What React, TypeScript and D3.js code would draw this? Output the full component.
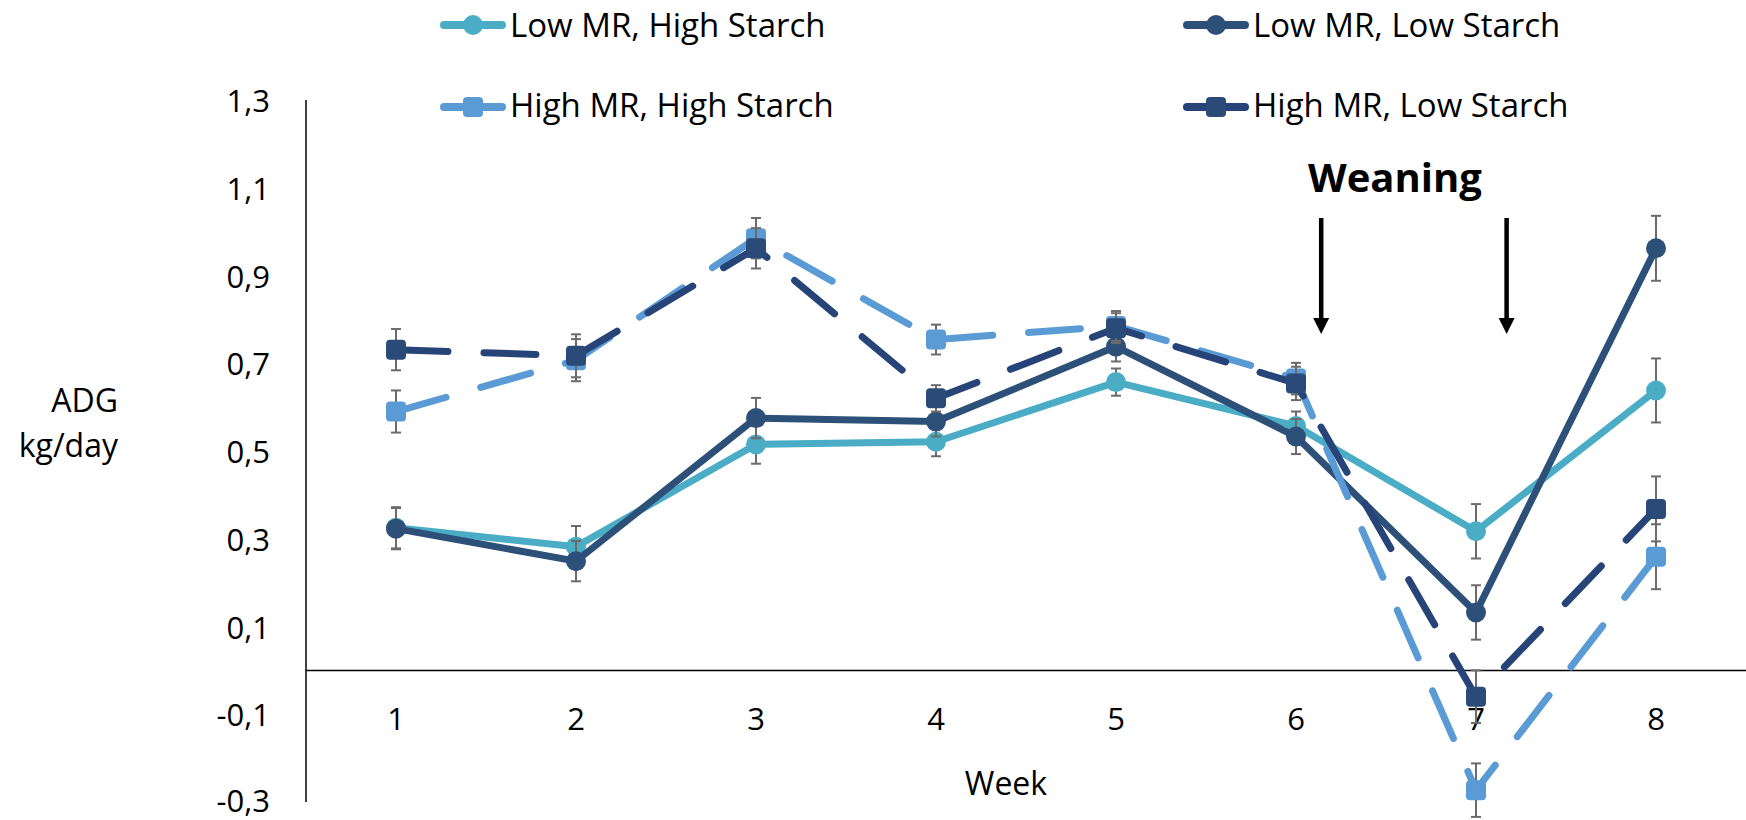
import * as d3 from 'd3';

const weeks = [1, 2, 3, 4, 5, 6, 7, 8];

const lowMRHighStarch = [0.325, 0.282, 0.515, 0.521, 0.657, 0.557, 0.317, 0.638];
const lowMRLowStarch = [0.323, 0.249, 0.575, 0.567, 0.738, 0.533, 0.132, 0.962];
const highMRHighStarch = [0.59, 0.707, 0.985, 0.754, 0.785, 0.665, -0.273, 0.259];
const highMRLowStarch = [0.731, 0.717, 0.962, 0.62, 0.78, 0.654, -0.06, 0.368];

const errLowMRHighStarch = [0.047, 0.047, 0.044, 0.033, 0.031, 0.033, 0.062, 0.073];
const errLowMRLowStarch = [0.047, 0.046, 0.046, 0.034, 0.034, 0.04, 0.062, 0.074];
const errHighMRHighStarch = [0.048, 0.048, 0.046, 0.034, 0.034, 0.036, 0.061, 0.074];
const errHighMRLowStarch = [0.047, 0.049, 0.046, 0.03, 0.034, 0.038, 0.06, 0.074];

const yTicks = [-0.3, -0.1, 0.1, 0.3, 0.5, 0.7, 0.9, 1.1, 1.3];
const weaningWeeks = [6.14, 7.17];

interface Series {
  name: string;
  values: number[];
  errors: number[];
  color: string;
  markerColor: string;
  marker: 'circle' | 'square';
  dashed: boolean;
}

const series: Series[] = [
  { name: 'Low MR, High Starch', values: lowMRHighStarch, errors: errLowMRHighStarch, color: '#4bacc6', markerColor: '#4bacc6', marker: 'circle', dashed: false },
  { name: 'Low MR, Low Starch', values: lowMRLowStarch, errors: errLowMRLowStarch, color: '#2d5079', markerColor: '#2d5079', marker: 'circle', dashed: false },
  { name: 'High MR, High Starch', values: highMRHighStarch, errors: errHighMRHighStarch, color: '#5b9bd5', markerColor: '#5b9bd5', marker: 'square', dashed: true },
  { name: 'High MR, Low Starch', values: highMRLowStarch, errors: errHighMRLowStarch, color: '#264478', markerColor: '#2a4b78', marker: 'square', dashed: true },
];

// legend slots: line start x, marker y, text baseline
const legendSlots = [
  { x: 440, y: 25, textY: 37 },
  { x: 1183, y: 25, textY: 37 },
  { x: 440, y: 107, textY: 117 },
  { x: 1183, y: 107, textY: 117 },
];

const FONT = '"Open Sans", sans-serif';

const width = 1746;
const height = 820;

const x = d3.scaleBand<number>().domain(weeks).range([306, 1746]);
const y = d3.scaleLinear().domain([-0.3, 1.3]).range([802, 100]);
const cx = (w: number) => (x(w) || 0) + x.bandwidth() / 2;
// continuous position for annotations between weeks
const xc = d3.scaleLinear().domain([1, 8]).range([cx(1), cx(8)]);

const fmt = (v: number) => d3.format('.1f')(v).replace('.', ',').replace('−', '-');

const Marker = ({ kind, px, py, fill }: { kind: string; px: number; py: number; fill: string }) =>
  kind === 'circle' ? (
    <circle cx={px} cy={py} r={10} fill={fill} />
  ) : (
    <rect x={px - 10} y={py - 10} width={20} height={20} rx={4} fill={fill} />
  );

const App = () => {
  const line = d3
    .line<number>()
    .x((_, i) => cx(weeks[i]))
    .y(d => y(d));

  return (
    <svg
      width={width}
      height={height}
      style={{ position: 'absolute', left: 0, top: 0, background: '#fff' }}
      fontFamily={FONT}
    >
      {/* axes */}
      <line x1={306} x2={306} y1={y(1.3)} y2={y(-0.3)} stroke="#000" strokeWidth={1.5} />
      <line x1={306} x2={1746} y1={y(0)} y2={y(0)} stroke="#000" strokeWidth={1.5} />

      {yTicks.map(t => (
        <text key={t} x={270} y={Math.min(y(t) + 12, 812)} textAnchor="end" fontSize={31} fill="#000">
          {fmt(t)}
        </text>
      ))}
      {weeks.map(w => (
        <text key={w} x={cx(w)} y={730} textAnchor="middle" fontSize={31} fill="#000">
          {w}
        </text>
      ))}
      <text x={1006} y={795} textAnchor="middle" fontSize={32} fill="#000">Week</text>
      <text x={118} y={412} textAnchor="end" fontSize={32} fill="#000">ADG</text>
      <text x={118} y={457} textAnchor="end" fontSize={32} fill="#000">kg/day</text>

      {/* series */}
      {series.map(s => (
        <g key={s.name}>
          {s.values.map((v, i) => {
            const px = cx(weeks[i]);
            const top = y(v + s.errors[i]);
            const bot = y(v - s.errors[i]);
            return (
              <g key={i} stroke="#6b6b6b" strokeWidth={2}>
                <line x1={px} x2={px} y1={top} y2={bot} />
                <line x1={px - 5} x2={px + 5} y1={top} y2={top} />
                <line x1={px - 5} x2={px + 5} y1={bot} y2={bot} />
              </g>
            );
          })}
          <path
            d={line(s.values) || ''}
            fill="none"
            stroke={s.color}
            strokeWidth={7}
            strokeLinecap="round"
            strokeLinejoin="round"
            strokeDasharray={s.dashed ? '52 36' : undefined}
          />
          {s.values.map((v, i) => (
            <Marker key={i} kind={s.marker} px={cx(weeks[i])} py={y(v)} fill={s.markerColor} />
          ))}
        </g>
      ))}

      {/* legend */}
      {series.map((s, i) => {
        const slot = legendSlots[i];
        return (
          <g key={s.name}>
            <line x1={slot.x + 4} x2={slot.x + 62} y1={slot.y} y2={slot.y} stroke={s.color} strokeWidth={8} strokeLinecap="round" />
            <Marker kind={s.marker} px={slot.x + 33} py={slot.y} fill={s.markerColor} />
            <text x={slot.x + 70} y={slot.textY} fontSize={33} fill="#000">{s.name}</text>
          </g>
        );
      })}

      {/* weaning annotation */}
      <text x={1395} y={192} textAnchor="middle" fontSize={40} fontWeight="bold" fill="#000">Weaning</text>
      {weaningWeeks.map(w => (
        <g key={w}>
          <line x1={xc(w)} x2={xc(w)} y1={218} y2={320} stroke="#000" strokeWidth={4.5} />
          <path d={`M${xc(w) - 8},318 L${xc(w) + 8},318 L${xc(w)},334 Z`} fill="#000" />
        </g>
      ))}
    </svg>
  );
};

export default App;
